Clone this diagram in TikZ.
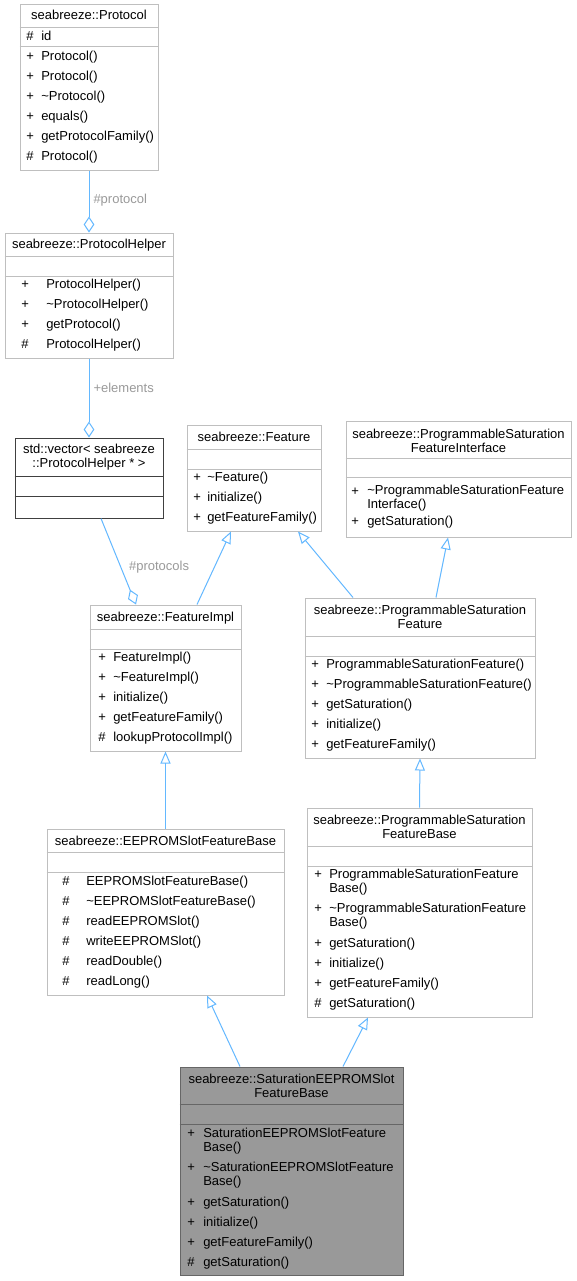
\documentclass[tikz,border=0pt]{standalone}
\usepackage{fontspec}
\setmainfont{Liberation Sans}
\usetikzlibrary{arrows.meta,fit,calc}
\definecolor{boxgray}{HTML}{BFBFBF}
\definecolor{vecgray}{HTML}{404040}
\definecolor{selfill}{HTML}{999999}
\definecolor{selline}{HTML}{666666}
\definecolor{edgeblue}{HTML}{63B8FF}
\definecolor{labgray}{HTML}{9A9A9A}
\newcommand\fnt{\fontsize{9.75}{10.5}\selectfont}
\newcommand\tl{\textasciitilde}
\begin{document}
\begin{tikzpicture}[x=0.75pt,y=-0.75pt,
  box/.style={draw=boxgray, fill=white, line width=0.75pt, inner sep=0pt},
  vbox/.style={draw=vecgray, fill=white, line width=0.75pt, inner sep=0pt},
  selbox/.style={draw=selline, fill=selfill, line width=0.75pt, inner sep=0pt},
  sep/.style={draw=boxgray, line width=0.75pt},
  vsep/.style={draw=vecgray, line width=0.75pt},
  ssep/.style={draw=selline, line width=0.75pt},
  mem/.style={anchor=west, inner sep=0pt, text height=7pt, text depth=2pt, font=\fnt},
  memtwo/.style={anchor=west, inner sep=0pt, align=left, font=\fnt},
  ttl/.style={inner sep=0pt, text height=7pt, text depth=2pt, font=\fnt},
  ttltwo/.style={inner sep=0pt, align=center, font=\fnt},
  elab/.style={inner sep=0pt, anchor=west, text=labgray, font=\fnt},
  edge/.style={draw=edgeblue, line width=0.75pt},
  inh/.style={edge, -{Triangle[open, length=9pt, width=7.5pt]}},
  agg/.style={edge, -{Diamond[open, length=12pt, width=8pt]}}
]
\useasboundingbox[fill=white] (0,0) rectangle (577,1281);

% ---------- seabreeze::Protocol
\node[box, fit={(20,5)(158,170)}] (protocol) {};
\draw[sep] (protocol.west |- 0,28) -- (protocol.east |- 0,28);
\draw[sep] (protocol.west |- 0,47) -- (protocol.east |- 0,47);
\node[ttl] at (protocol.north |- 0,16) {seabreeze::Protocol};
\node[mem] at (26,37) {\#}; \node[mem] at (41,37) {id};
\node[mem] at (26,57) {+}; \node[mem] at (41,57) {Protocol()};
\node[mem] at (26,77) {+}; \node[mem] at (41,77) {Protocol()};
\node[mem] at (26,97) {+}; \node[mem] at (41,97) {\tl Protocol()};
\node[mem] at (26,117) {+}; \node[mem] at (41,117) {equals()};
\node[mem] at (26,137) {+}; \node[mem] at (41,137) {getProtocolFamily()};
\node[mem] at (26,157) {\#}; \node[mem] at (41,157) {Protocol()};

% ---------- seabreeze::ProtocolHelper
\node[box, fit={(5,233)(173,358)}] (helper) {};
\draw[sep] (helper.west |- 0,256) -- (helper.east |- 0,256);
\draw[sep] (helper.west |- 0,276) -- (helper.east |- 0,276);
\node[ttl] at (helper.north |- 0,245) {seabreeze::ProtocolHelper};
\node[mem] at (21,285) {+}; \node[mem] at (46,285) {ProtocolHelper()};
\node[mem] at (21,305) {+}; \node[mem] at (46,305) {\tl ProtocolHelper()};
\node[mem] at (21,325) {+}; \node[mem] at (46,325) {getProtocol()};
\node[mem] at (21,345) {\#}; \node[mem] at (46,345) {ProtocolHelper()};

% ---------- std::vector
\node[vbox, fit={(15,438)(163,518)}] (vec) {};
\draw[vsep] (vec.west |- 0,476) -- (vec.east |- 0,476);
\draw[vsep] (vec.west |- 0,496) -- (vec.east |- 0,496);
\node[ttltwo] at (vec.north |- 0,457.5) {std::vector< seabreeze\\::ProtocolHelper * >};

% ---------- seabreeze::Feature
\node[box, fit={(187,425)(321,531)}] (feature) {};
\draw[sep] (feature.west |- 0,449) -- (feature.east |- 0,449);
\draw[sep] (feature.west |- 0,469) -- (feature.east |- 0,469);
\node[ttl] at (feature.north |- 0,438) {seabreeze::Feature};
\node[mem] at (193,478) {+}; \node[mem] at (207,478) {\tl Feature()};
\node[mem] at (193,498) {+}; \node[mem] at (207,498) {initialize()};
\node[mem] at (193,518) {+}; \node[mem] at (207,518) {getFeatureFamily()};

% ---------- seabreeze::ProgrammableSaturationFeatureInterface
\node[box, fit={(346,421)(571,537)}] (iface) {};
\draw[sep] (iface.west |- 0,458) -- (iface.east |- 0,458);
\draw[sep] (iface.west |- 0,477) -- (iface.east |- 0,477);
\node[ttltwo] at (iface.north |- 0,441) {seabreeze::ProgrammableSaturation\\FeatureInterface};
\node[mem] at (351,492) {+}; \node[memtwo] at (367,498.5) {\tl ProgrammableSaturationFeature\\Interface()};
\node[mem] at (351,522) {+}; \node[mem] at (367,522) {getSaturation()};

% ---------- seabreeze::FeatureImpl
\node[box, fit={(90,605)(241,751)}] (featimpl) {};
\draw[sep] (featimpl.west |- 0,629) -- (featimpl.east |- 0,629);
\draw[sep] (featimpl.west |- 0,649) -- (featimpl.east |- 0,649);
\node[ttl] at (featimpl.north |- 0,618) {seabreeze::FeatureImpl};
\node[mem] at (98,658) {+}; \node[mem] at (113,658) {FeatureImpl()};
\node[mem] at (98,678) {+}; \node[mem] at (113,678) {\tl FeatureImpl()};
\node[mem] at (98,698) {+}; \node[mem] at (113,698) {initialize()};
\node[mem] at (98,718) {+}; \node[mem] at (113,718) {getFeatureFamily()};
\node[mem] at (98,738) {\#}; \node[mem] at (113,738) {lookupProtocolImpl()};

% ---------- seabreeze::ProgrammableSaturationFeature
\node[box, fit={(305,598)(535,758)}] (psf) {};
\draw[sep] (psf.west |- 0,636) -- (psf.east |- 0,636);
\draw[sep] (psf.west |- 0,656) -- (psf.east |- 0,656);
\node[ttltwo] at (psf.north |- 0,617) {seabreeze::ProgrammableSaturation\\Feature};
\node[mem] at (311,665) {+}; \node[mem] at (326,665) {ProgrammableSaturationFeature()};
\node[mem] at (311,685) {+}; \node[mem] at (326,685) {\tl ProgrammableSaturationFeature()};
\node[mem] at (311,705) {+}; \node[mem] at (326,705) {getSaturation()};
\node[mem] at (311,725) {+}; \node[mem] at (326,725) {initialize()};
\node[mem] at (311,745) {+}; \node[mem] at (326,745) {getFeatureFamily()};

% ---------- seabreeze::EEPROMSlotFeatureBase
\node[box, fit={(47,829)(284,995)}] (eeprom) {};
\draw[sep] (eeprom.west |- 0,852) -- (eeprom.east |- 0,852);
\draw[sep] (eeprom.west |- 0,872) -- (eeprom.east |- 0,872);
\node[ttl] at (eeprom.north |- 0,842) {seabreeze::EEPROMSlotFeatureBase};
\node[mem] at (62,882) {\#}; \node[mem] at (86,882) {EEPROMSlotFeatureBase()};
\node[mem] at (62,902) {\#}; \node[mem] at (86,902) {\tl EEPROMSlotFeatureBase()};
\node[mem] at (62,922) {\#}; \node[mem] at (86,922) {readEEPROMSlot()};
\node[mem] at (62,942) {\#}; \node[mem] at (86,942) {writeEEPROMSlot()};
\node[mem] at (62,962) {\#}; \node[mem] at (86,962) {readDouble()};
\node[mem] at (62,982) {\#}; \node[mem] at (86,982) {readLong()};

% ---------- seabreeze::ProgrammableSaturationFeatureBase
\node[box, fit={(307,808)(532,1017)}] (psfbase) {};
\draw[sep] (psfbase.west |- 0,846) -- (psfbase.east |- 0,846);
\draw[sep] (psfbase.west |- 0,866) -- (psfbase.east |- 0,866);
\node[ttltwo] at (psfbase.north |- 0,827) {seabreeze::ProgrammableSaturation\\FeatureBase};
\node[mem] at (314,875) {+}; \node[memtwo] at (329,882) {ProgrammableSaturationFeature\\Base()};
\node[mem] at (314,909) {+}; \node[memtwo] at (329,916.5) {\tl ProgrammableSaturationFeature\\Base()};
\node[mem] at (314,944) {+}; \node[mem] at (329,944) {getSaturation()};
\node[mem] at (314,964) {+}; \node[mem] at (329,964) {initialize()};
\node[mem] at (314,984) {+}; \node[mem] at (329,984) {getFeatureFamily()};
\node[mem] at (314,1004) {\#}; \node[mem] at (329,1004) {getSaturation()};

% ---------- seabreeze::SaturationEEPROMSlotFeatureBase
\node[selbox, fit={(180,1067)(403,1275)}] (sat) {};
\draw[ssep] (sat.west |- 0,1104) -- (sat.east |- 0,1104);
\draw[ssep] (sat.west |- 0,1124) -- (sat.east |- 0,1124);
\node[ttltwo] at (sat.north |- 0,1086) {seabreeze::SaturationEEPROMSlot\\FeatureBase};
\node[mem] at (187,1134) {+}; \node[memtwo] at (203,1141) {SaturationEEPROMSlotFeature\\Base()};
\node[mem] at (187,1168) {+}; \node[memtwo] at (203,1175.5) {\tl SaturationEEPROMSlotFeature\\Base()};
\node[mem] at (187,1203) {+}; \node[mem] at (203,1203) {getSaturation()};
\node[mem] at (187,1223) {+}; \node[mem] at (203,1223) {initialize()};
\node[mem] at (187,1243) {+}; \node[mem] at (203,1243) {getFeatureFamily()};
\node[mem] at (187,1263) {\#}; \node[mem] at (203,1263) {getSaturation()};

% ---------- connectors
\draw[agg] (protocol.south) -- (helper.north)
  node[elab, pos=0.48, xshift=3pt] {\#protocol};
\draw[agg] (helper.south) -- (vec.north)
  node[elab, pos=0.375, xshift=3pt] {+elements};
\draw[agg] (vec.south -| 101,0) -- (featimpl.north -| 136,0)
  node[elab, pos=0.56, xshift=6pt] {\#protocols};
\draw[inh] (featimpl.north -| 197,0) -- (feature.south -| 231,0);
\draw[inh] (psf.north -| 353,0) -- (feature.south -| 298,0);
\draw[inh] (psf.north -| 436,0) -- (iface.south -| 448,0);
\draw[inh] (eeprom.north) -- (featimpl.south);
\draw[inh] (psfbase.north) -- (psf.south);
\draw[inh] (sat.north -| 240,0) -- (eeprom.south -| 207,0);
\draw[inh] (sat.north -| 343,0) -- (psfbase.south -| 368,0);
\end{tikzpicture}
\end{document}
